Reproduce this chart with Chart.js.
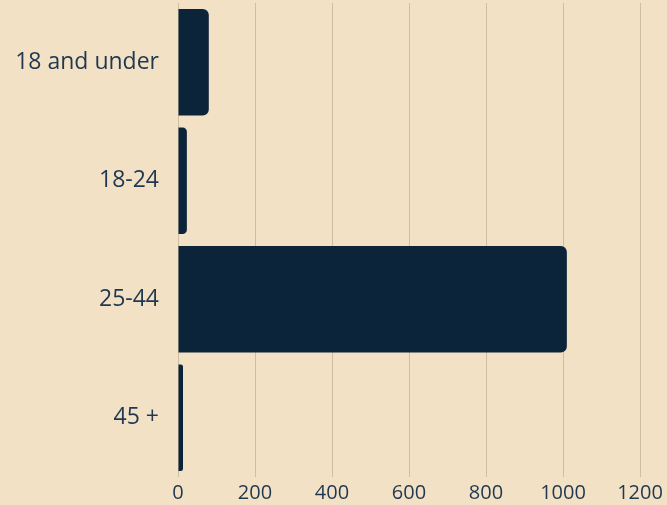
<!DOCTYPE html>
<html>
<head>
<meta charset="utf-8">
<script src="https://cdn.jsdelivr.net/npm/chart.js@4"></script>
<style>
  html, body { margin: 0; padding: 0; background: #f3e1c5; }
  #wrap { width: 667px; height: 505px; }
</style>
</head>
<body>
<div id="wrap"><canvas id="c" width="667" height="505"></canvas></div>
<script>
// Age groups and respondent counts
const ageGroups = ['18 and under', '18-24', '25-44', '45 +'];
const counts = [80, 23, 1010, 13];
const xTicks = [0, 200, 400, 600, 800, 1000, 1200];

const ink = '#1f3750';
const fontFamily = "'Open Sans', Lato, sans-serif";

new Chart(document.getElementById('c'), {
  type: 'bar',
  data: {
    labels: ageGroups,
    datasets: [{
      data: counts,
      backgroundColor: '#0b243a',
      borderRadius: 6,
      borderSkipped: 'start',
      categoryPercentage: 1,
      barPercentage: 0.9
    }]
  },
  options: {
    indexAxis: 'y',
    responsive: false,
    animation: false,
    layout: { padding: { top: 3, right: 27, left: 0, bottom: 0 } },
    plugins: { legend: { display: false }, tooltip: { enabled: false } },
    scales: {
      x: {
        min: 0,
        max: 1200,
        afterBuildTicks(scale) { scale.ticks = xTicks.map(v => ({ value: v })); },
        afterFit(scale) { scale.height = 28; },
        grid: { color: '#cdbda3', lineWidth: 1, drawTicks: false },
        border: { display: false },
        ticks: {
          color: ink, padding: 4, maxRotation: 0, autoSkip: false,
          font: { family: fontFamily, size: 20 },
          callback: v => String(v)
        }
      },
      y: {
        afterFit(scale) {
          scale.width = 178;
          // let the category bands run to the top and bottom of the plot
          scale.paddingTop = 0;
          scale.paddingBottom = 0;
        },
        grid: { display: false },
        border: { display: false },
        ticks: { color: ink, padding: 11, font: { family: fontFamily, size: 23 } }
      }
    }
  }
});
</script>
</body>
</html>
